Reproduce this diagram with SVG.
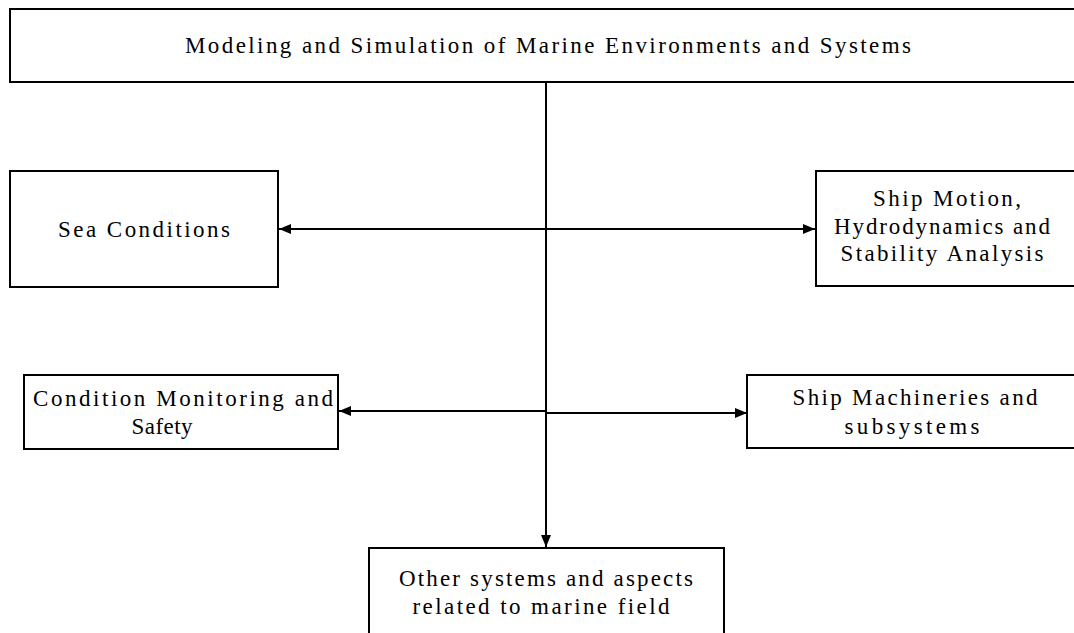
<svg xmlns="http://www.w3.org/2000/svg" width="1074" height="633" viewBox="0 0 1074 633">
<defs>
<style>
.box{fill:#fff;stroke:#000;stroke-width:2}
.t{font-family:"Liberation Serif","Times New Roman",serif;font-size:23px;fill:#000;text-anchor:middle}
.c{stroke:#000;stroke-width:2;fill:none}
</style>
<marker id="ah" viewBox="0 0 12 10" refX="12" refY="5" markerWidth="12" markerHeight="10" markerUnits="userSpaceOnUse" orient="auto-start-reverse">
<path d="M0,0 L12,5 L0,10 Z" fill="#000"/>
</marker>
</defs>
<rect width="1074" height="633" fill="#fff"/>
<g id="connectors">
<line class="c" x1="546" y1="82" x2="546" y2="547" marker-end="url(#ah)"/>
<line class="c" x1="279" y1="229" x2="815" y2="229" marker-start="url(#ah)" marker-end="url(#ah)"/>
<line class="c" x1="339" y1="411" x2="546" y2="411" marker-start="url(#ah)"/>
<line class="c" x1="546" y1="413" x2="747" y2="413" marker-end="url(#ah)"/>
</g>
<g id="top">
<rect class="box" x="10" y="9" width="1080" height="73"/>
<text class="t" x="548" y="53" textLength="726" lengthAdjust="spacing">Modeling and Simulation of Marine Environments and Systems</text>
</g>
<g id="sea">
<rect class="box" x="10" y="171" width="268" height="116"/>
<text class="t" x="144" y="237" textLength="172" lengthAdjust="spacing">Sea Conditions</text>
</g>
<g id="ship-motion">
<rect class="box" x="816" y="171" width="270" height="115"/>
<text class="t" x="947" y="206" textLength="148" lengthAdjust="spacing">Ship Motion,</text>
<text class="t" x="942" y="234" textLength="216" lengthAdjust="spacing">Hydrodynamics and</text>
<text class="t" x="942" y="261" textLength="203" lengthAdjust="spacing">Stability Analysis</text>
</g>
<g id="condition">
<rect class="box" x="24" y="375" width="314" height="74"/>
<text class="t" x="183" y="406" textLength="300" lengthAdjust="spacing">Condition Monitoring and</text>
<text class="t" x="162" y="434" textLength="61" lengthAdjust="spacing">Safety</text>
</g>
<g id="machineries">
<rect class="box" x="747" y="375" width="340" height="73"/>
<text class="t" x="915" y="405" textLength="245" lengthAdjust="spacing">Ship Machineries and</text>
<text class="t" x="912" y="434" textLength="135" lengthAdjust="spacing">subsystems</text>
</g>
<g id="other">
<rect class="box" x="369" y="548" width="355" height="100"/>
<text class="t" x="546" y="586" textLength="294" lengthAdjust="spacing">Other systems and aspects</text>
<text class="t" x="541" y="614" textLength="257" lengthAdjust="spacing">related to marine field</text>
</g>
</svg>
